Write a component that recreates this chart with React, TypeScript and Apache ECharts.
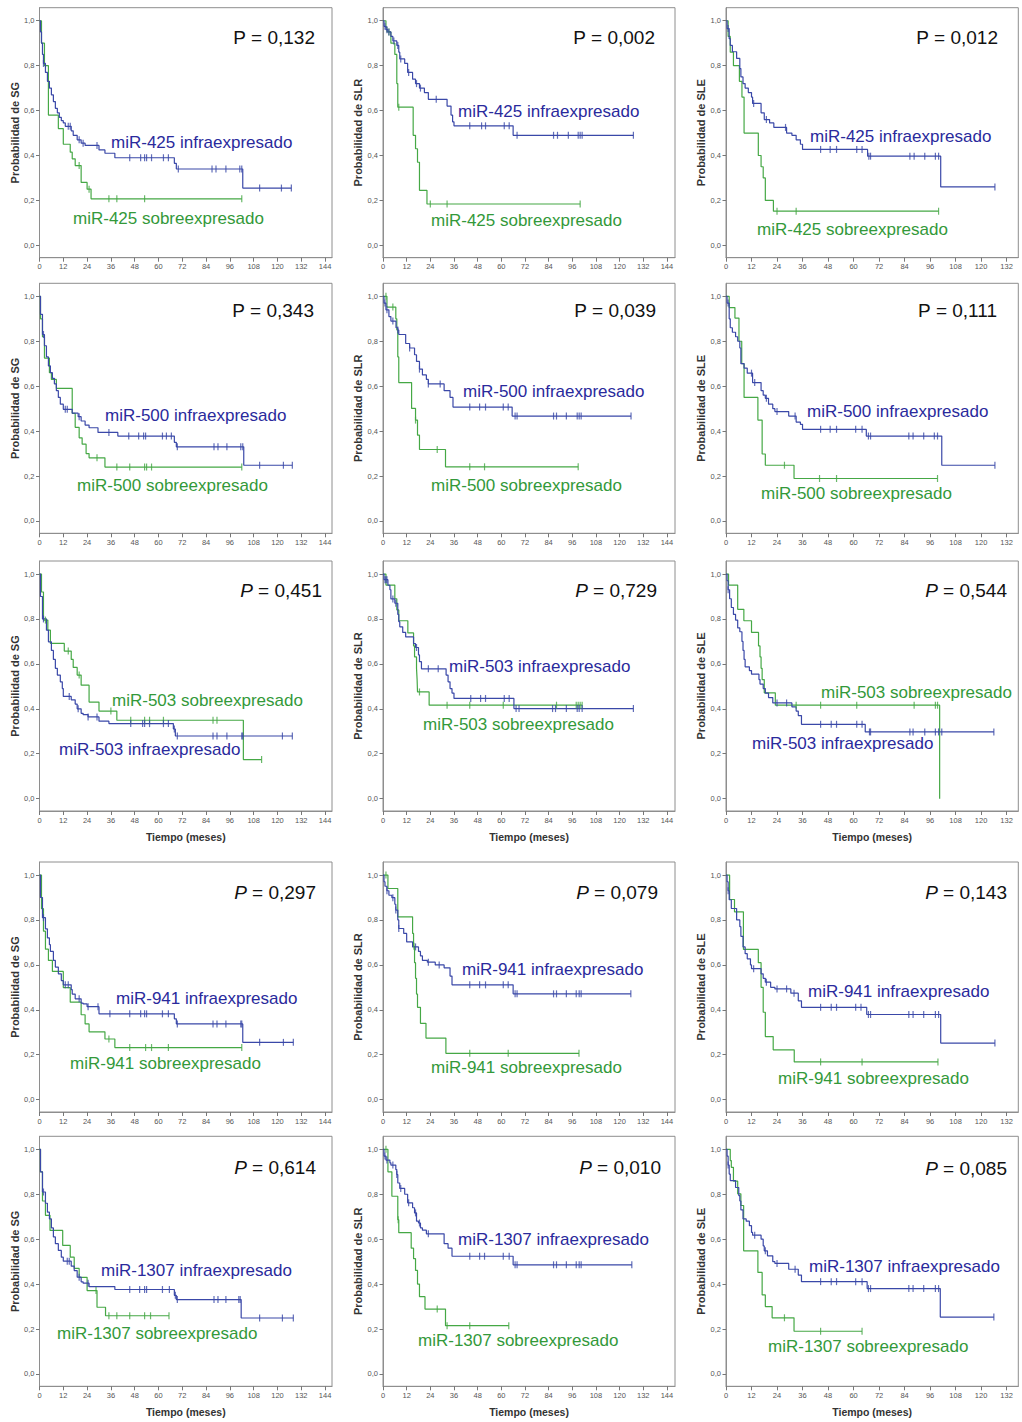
import React, { useEffect, useRef } from "react";
import * as echarts from "echarts";

type Pair = [number, number];

// ---------- tick labels ----------
const TIME_TICKS_144 = [0, 12, 24, 36, 48, 60, 72, 84, 96, 108, 120, 132, 144];
const TIME_TICKS_132 = [0, 12, 24, 36, 48, 60, 72, 84, 96, 108, 120, 132];
const PROB_TICKS = [0, 0.2, 0.4, 0.6, 0.8, 1.0];

const ENDPOINTS = ["SG", "SLR", "SLE"];
const MIRNAS = ["425", "500", "503", "941", "1307"];
const P_VALUES = [
  ["0,132", "0,002", "0,012"],
  ["0,343", "0,039", "0,111"],
  ["0,451", "0,729", "0,544"],
  ["0,297", "0,079", "0,143"],
  ["0,614", "0,010", "0,085"],
];

// ---------- Kaplan-Meier steps: [time (months), survival after event] ; censor times ----------
// miR-425
const sg425Infra: Pair[] = [[0.5,0.95],[1,0.9],[1.5,0.85],[2,0.81],[3,0.77],[4,0.73],[5,0.70],[6,0.67],[7,0.64],[8,0.61],[9,0.59],[10,0.57],[11,0.555],[12,0.545],[13,0.53],[16,0.51],[17,0.49],[19,0.47],[21,0.455],[23,0.445],[30,0.425],[33,0.41],[38,0.39],[68,0.365],[69,0.34],[102.5,0.255]];
const sg425InfraCensor = [2,14.5,15.5,20,22,29,45.5,51,53,54,56.5,62.5,65,70,87,89,94,101,102,111,122,127];
const sg425Sobre: Pair[] = [[1,0.9],[2.5,0.8],[4.5,0.58],[9.5,0.52],[12,0.45],[15.5,0.415],[16.5,0.385],[18,0.355],[21,0.28],[24,0.25],[26,0.207]];
const sg425SobreCensor = [20,25,35,39,53,102];

const slr425Infra: Pair[] = [[0.5,0.975],[1.5,0.96],[2.5,0.95],[4,0.93],[5,0.91],[7,0.89],[8,0.86],[8.5,0.83],[11,0.81],[12.5,0.77],[15,0.74],[16.5,0.72],[18.5,0.70],[21,0.68],[23,0.65],[32.5,0.62],[34.5,0.58],[35.3,0.55],[36,0.532],[66,0.49]];
const slr425InfraCensor = [1,2,3,5.5,7.5,9,13,17,19,27,44,50,52,61.5,64,68,86.5,88.5,94,99,100,101,127];
const slr425Sobre: Pair[] = [[1.5,0.97],[2,0.95],[4,0.9],[6,0.85],[7,0.72],[7.5,0.615],[15.3,0.49],[16.5,0.43],[17.5,0.37],[18.5,0.245],[22.3,0.184]];
const slr425SobreCensor = [3,8,24,32.5,100];

const sle425Infra: Pair[] = [[0.5,0.965],[1.5,0.92],[2,0.89],[3,0.862],[5,0.832],[6.5,0.787],[7,0.75],[8,0.72],[9,0.70],[10.5,0.68],[12,0.66],[12.5,0.632],[16.5,0.59],[18,0.56],[20.5,0.545],[22.5,0.525],[28.5,0.5],[31,0.49],[33,0.47],[35,0.45],[36,0.427],[66.6,0.397],[101,0.26]];
const sle425InfraCensor = [1,13,19,28,44.5,49,52,61.5,64,67.2,68,86.5,88.5,93.5,98.5,100,126.5];
const sle425Sobre: Pair[] = [[1,0.93],[2,0.86],[3.5,0.8],[6.3,0.73],[7.5,0.66],[8.5,0.5],[15.2,0.4],[16.5,0.35],[17.5,0.3],[18.5,0.2],[22.3,0.152]];
const sle425SobreCensor = [24,33,100];

// miR-500
const sg500Infra: Pair[] = [[0.5,0.92],[1.5,0.83],[2.5,0.78],[3.5,0.73],[4.5,0.69],[5.5,0.66],[6.5,0.635],[7.5,0.61],[8.5,0.58],[9.5,0.55],[10.5,0.52],[12,0.497],[16.5,0.48],[19.5,0.464],[21,0.445],[23,0.427],[25,0.415],[29.5,0.394],[39.5,0.378],[68,0.35],[69,0.33],[103,0.248]];
const sg500InfraCensor = [2,13,14,20,35,45,50,52.5,53.5,62,64,66.5,69.5,88,90,94.5,101.5,102.5,111,123,127.5];
const sg500Sobre: Pair[] = [[0.5,0.9],[1.5,0.82],[2.5,0.725],[5,0.66],[6,0.63],[8.5,0.59],[16.5,0.479],[18,0.417],[20,0.37],[21.5,0.342],[23.5,0.30],[25,0.281],[33,0.24]];
const sg500SobreCensor = [29,39,45.5,53,54,56.5,102];

const slr500Infra: Pair[] = [[0.5,0.97],[1.5,0.94],[3,0.91],[4,0.89],[6.6,0.86],[7.5,0.85],[8,0.83],[11.5,0.79],[13.5,0.77],[16,0.74],[17,0.71],[18.5,0.676],[20,0.65],[22,0.63],[23,0.61],[31,0.58],[34,0.55],[35.5,0.507],[65.5,0.467]];
const slr500InfraCensor = [1,2,5,7.5,13.5,18.5,23,29,44,49,52,61,63.5,67,68,86.5,88,93,98.5,99.5,100.5,125.8];
const slr500Sobre: Pair[] = [[2,0.952],[6.5,0.9],[7,0.85],[7.5,0.73],[8,0.616],[14.5,0.501],[16.5,0.449],[17.5,0.382],[18.5,0.318],[31.7,0.241]];
const slr500SobreCensor = [1.5,5,16.5,27.5,44,51.5,99];

const sle500Infra: Pair[] = [[0.5,0.97],[1.5,0.9],[2,0.86],[3,0.84],[4.5,0.82],[5.5,0.8],[6.5,0.77],[7,0.70],[8.5,0.68],[10,0.658],[12.5,0.616],[16.5,0.58],[17.5,0.56],[18.5,0.546],[20,0.52],[22,0.5],[23,0.487],[29.5,0.467],[33,0.44],[35,0.43],[36,0.408],[66,0.378],[101.5,0.248]];
const sle500InfraCensor = [1,12,13.5,19,24,32.5,44.5,49,52,61,64,67,68,86,88,93,98,99.5,126.5];
const sle500Sobre: Pair[] = [[1.5,0.95],[4.2,0.903],[6.1,0.8],[7.4,0.7],[8.5,0.55],[15,0.449],[17,0.298],[18.5,0.248],[32,0.189]];
const sle500SobreCensor = [27.5,44,52,99.5];

// miR-503
const sg503Infra: Pair[] = [[0.5,0.9],[1.5,0.8],[3.5,0.75],[4.5,0.698],[6,0.66],[7,0.62],[8,0.58],[9,0.55],[10.5,0.52],[11.5,0.49],[12,0.455],[16,0.44],[18,0.421],[19,0.40],[21,0.38],[22,0.374],[24.5,0.364],[30,0.345],[35,0.334],[67.5,0.31],[68.5,0.279]];
const sg503InfraCensor = [2,15,19.5,24.5,29,46,52,53,55.5,62.5,65,68,69.5,87.5,89.5,94.5,102,102.5,122.5,127.5];
const sg503Sobre: Pair[] = [[1,0.92],[2,0.795],[4.2,0.75],[5.5,0.691],[12.5,0.657],[16,0.62],[17,0.584],[19,0.55],[21,0.505],[25,0.43],[30,0.39],[39,0.349],[102.8,0.174]];
const sg503SobreCensor = [3,14.5,20,36,46,53,55.5,62.5,87.5,89.5,112];

const slr503Infra: Pair[] = [[0.5,0.975],[2.5,0.95],[3.5,0.93],[4,0.889],[6,0.87],[7.5,0.82],[8,0.788],[8.5,0.765],[10,0.74],[11.5,0.72],[15.5,0.69],[16.5,0.673],[18,0.64],[18.5,0.61],[19.5,0.578],[32,0.55],[33,0.52],[34,0.49],[35,0.47],[36,0.446],[66.4,0.401]];
const slr503InfraCensor = [1,1.5,2,5,6.5,17,23,28,44.5,49.5,52,61.5,64,67.5,69,86,87.5,93,98.5,99.5,101,127];
const slr503Sobre: Pair[] = [[1.5,0.951],[6,0.89],[7,0.84],[8,0.792],[12.6,0.738],[15.5,0.68],[16,0.631],[17,0.58],[17.3,0.53],[17.5,0.475],[23.4,0.416]];
const slr503SobreCensor = [18.5,32.5,44,61,88,98,99,100,101];

const sle503Infra: Pair[] = [[0.5,0.97],[1,0.93],[1.7,0.89],[2.5,0.851],[3.5,0.82],[4.5,0.795],[5.5,0.76],[6.5,0.743],[7.5,0.7],[8,0.66],[8.5,0.62],[9,0.587],[11,0.57],[12,0.554],[15.5,0.53],[16,0.51],[17.5,0.49],[18.5,0.47],[20,0.45],[22,0.426],[31,0.409],[33,0.39],[34,0.37],[35.5,0.331],[65.5,0.297]];
const sle503InfraCensor = [1,24,28.5,44.5,49.5,52,61.5,64,67.5,68,86.5,88,93.5,98.5,100,101.5,126];
const sle503Sobre: Pair[] = [[1.2,0.951],[5.5,0.843],[8.4,0.792],[12,0.74],[15.3,0.68],[16,0.631],[16.5,0.58],[17,0.53],[18,0.471],[23.2,0.416],[100.5,0]];
const sle503SobreCensor = [33,44.5,61.5,88.5,98.5,99.5];

// miR-941
const sg941Infra: Pair[] = [[0.5,0.9],[1.5,0.81],[3,0.76],[4,0.72],[5,0.69],[5.5,0.66],[7,0.62],[8,0.59],[9.5,0.56],[11,0.53],[12,0.511],[16,0.49],[16.5,0.47],[18,0.449],[21,0.43],[22,0.426],[24,0.414],[30,0.382],[68,0.36],[69,0.337],[102.5,0.255]];
const sg941InfraCensor = [2,13,14.5,20,24.5,29.5,35.5,45.5,51,53,54,62,65,69.5,87.5,89.5,94,101.5,102,111,123,128];
const sg941Sobre: Pair[] = [[1,0.85],[2,0.75],[3,0.67],[4.5,0.62],[6.5,0.571],[12,0.499],[15.5,0.434],[21,0.378],[23,0.337],[25,0.302],[33,0.27],[38,0.232]];
const sg941SobreCensor = [35,45.5,53.5,56.5,65,102];

const slr941Infra: Pair[] = [[0.5,0.97],[1,0.95],[2,0.93],[3,0.91],[4.5,0.899],[6,0.87],[6.5,0.844],[7.5,0.8],[8,0.762],[10.5,0.74],[12,0.702],[15,0.68],[18,0.66],[19,0.64],[20,0.62],[22.5,0.612],[26.5,0.6],[31,0.587],[34,0.55],[35,0.511],[66,0.471]];
const slr941InfraCensor = [2,5,6.5,8,16.5,23,28.5,44,49,52,61,63.5,67,68,86.5,88,93,98,99.5,100.5,125.7];
const slr941Sobre: Pair[] = [[2.5,0.94],[7.5,0.814],[15,0.74],[15.5,0.683],[16,0.61],[16.5,0.54],[17,0.47],[17.5,0.411],[19,0.34],[21.8,0.274],[31.9,0.206]];
const slr941SobreCensor = [1.5,15.7,44,63.5,99.4];

const sle941Infra: Pair[] = [[0.5,0.97],[1,0.93],[1.5,0.89],[2.5,0.851],[5,0.8],[6.5,0.77],[7,0.727],[8,0.68],[9,0.65],[10,0.627],[11.5,0.6],[12,0.583],[16.5,0.56],[17.5,0.54],[18.5,0.523],[21,0.5],[23,0.493],[30.5,0.474],[34,0.44],[35.5,0.411],[66.2,0.379],[101,0.252]];
const sle941InfraCensor = [1,13,19,24,28.5,32,44.5,49.5,52,61,63.5,67,68,86,88,93,98.5,100,126.5];
const sle941Sobre: Pair[] = [[1.7,0.891],[4,0.836],[8.2,0.669],[15.2,0.61],[16.5,0.5],[17.5,0.389],[18.5,0.281],[22.2,0.222],[32.1,0.168]];
const sle941SobreCensor = [44.5,64,99.7];

// miR-1307
const sg1307Infra: Pair[] = [[0.5,0.9],[1.5,0.81],[3,0.76],[4,0.72],[5,0.69],[6,0.65],[7,0.61],[8,0.58],[9.5,0.55],[11,0.52],[12,0.502],[16,0.48],[17.5,0.46],[19,0.431],[21,0.41],[22,0.404],[25,0.389],[38,0.376],[68,0.35],[69,0.331],[101.7,0.249]];
const sg1307InfraCensor = [2,14,15,20,24.5,45.5,50.5,53,54,62,65.5,68.5,69.5,88,90,94,100.5,101.2,111,122.5,128];
const sg1307Sobre: Pair[] = [[0.5,0.9],[1.5,0.77],[3,0.706],[5.3,0.639],[11.7,0.572],[15.5,0.52],[17.5,0.47],[20,0.43],[24,0.371],[29,0.297],[33.3,0.259]];
const sg1307SobreCensor = [28.5,35,39,45.5,53,56,65.3];

const slr1307Infra: Pair[] = [[0.5,0.97],[1.5,0.952],[3.5,0.94],[4,0.93],[6.5,0.91],[7,0.888],[7.5,0.85],[8.5,0.826],[11,0.8],[12.5,0.762],[15,0.74],[16,0.717],[17,0.68],[18,0.672],[19,0.65],[20,0.64],[22,0.624],[31,0.58],[33,0.56],[35,0.524],[66,0.486]];
const slr1307InfraCensor = [1,2,5,7,9,13,16.5,18.5,23,44,49,51.5,61,64,67,68,86.5,88,93,98,99.5,100.5,126.2];
const slr1307Sobre: Pair[] = [[2.5,0.9],[4.5,0.791],[7.5,0.687],[8,0.629],[14.3,0.56],[15.5,0.513],[16.5,0.461],[17.5,0.40],[18.5,0.344],[21.3,0.289],[31.7,0.215]];
const slr1307SobreCensor = [1.5,7.7,27.5,32.5,44,63.8];

const sle1307Infra: Pair[] = [[0.5,0.97],[1,0.93],[1.5,0.89],[2,0.861],[4.5,0.83],[6,0.794],[6.5,0.77],[7,0.73],[8,0.69],[9.5,0.68],[11,0.66],[12,0.63],[12.5,0.618],[16.5,0.6],[17.5,0.57],[18,0.548],[19.5,0.526],[22,0.5],[23,0.492],[29.5,0.466],[34,0.44],[35.5,0.411],[66.4,0.38],[100.8,0.253]];
const sle1307InfraCensor = [1,13.5,18.5,24,32.5,44.5,49.5,52,61,64,67,68,86,88,93,98.5,100,126];
const sle1307Sobre: Pair[] = [[2,0.95],[2.5,0.92],[3.5,0.858],[5.5,0.802],[7,0.75],[8.3,0.548],[15,0.452],[17,0.352],[18.5,0.3],[21.7,0.25],[32,0.19]];
const sle1307SobreCensor = [27.5,44.5,64];

// panels in reading order (row = miRNA, column = endpoint)
const CURVES: [Pair[], number[], Pair[], number[]][] = [
  [sg425Infra, sg425InfraCensor, sg425Sobre, sg425SobreCensor],
  [slr425Infra, slr425InfraCensor, slr425Sobre, slr425SobreCensor],
  [sle425Infra, sle425InfraCensor, sle425Sobre, sle425SobreCensor],
  [sg500Infra, sg500InfraCensor, sg500Sobre, sg500SobreCensor],
  [slr500Infra, slr500InfraCensor, slr500Sobre, slr500SobreCensor],
  [sle500Infra, sle500InfraCensor, sle500Sobre, sle500SobreCensor],
  [sg503Infra, sg503InfraCensor, sg503Sobre, sg503SobreCensor],
  [slr503Infra, slr503InfraCensor, slr503Sobre, slr503SobreCensor],
  [sle503Infra, sle503InfraCensor, sle503Sobre, sle503SobreCensor],
  [sg941Infra, sg941InfraCensor, sg941Sobre, sg941SobreCensor],
  [slr941Infra, slr941InfraCensor, slr941Sobre, slr941SobreCensor],
  [sle941Infra, sle941InfraCensor, sle941Sobre, sle941SobreCensor],
  [sg1307Infra, sg1307InfraCensor, sg1307Sobre, sg1307SobreCensor],
  [slr1307Infra, slr1307InfraCensor, slr1307Sobre, slr1307SobreCensor],
  [sle1307Infra, sle1307InfraCensor, sle1307Sobre, sle1307SobreCensor],
];

// ---------- layout (pixels) ----------
const COL_LEFT = [39.5, 383, 726];
const COL_WIDTH = [292.5, 292, 292.3];
const COL_XMAX = [147.5, 148.1, 137.5];
const ROW_TOP = [7.7, 283.3, 561, 862, 1136.3];
const GRID_H = 250;
const Y_MIN = -0.055;
const Y_MAX = 1.058;
// [infraLeft, infraCenterY, sobreLeft, sobreCenterY, pRight, pCenterY]
const TEXT_POS = [
  [111, 142, 73, 218, 315, 37],
  [458, 111, 431, 220, 655, 37],
  [810, 136, 757, 229, 998, 37],
  [105, 415, 77, 485, 314, 310],
  [463, 391, 431, 485, 656, 310],
  [807, 411, 761, 493, 997, 310],
  [59, 749, 112, 700, 322, 590],
  [449, 666, 423, 724, 657, 590],
  [752, 743, 821, 692, 1007, 590],
  [116, 998, 70, 1063, 316, 892],
  [462, 969, 431, 1067, 658, 892],
  [808, 991, 778, 1078, 1007, 892],
  [101, 1270, 57, 1333, 316, 1167],
  [458, 1239, 418, 1340, 661, 1167],
  [809, 1266, 768, 1346, 1007, 1168],
];

const FONT = "'Liberation Sans', Arial, Helvetica, sans-serif";
const BLUE_LINE = "#3a48a8";
const GREEN_LINE = "#45a845";
const BLUE_TEXT = "#2a2a9c";
const GREEN_TEXT = "#33993a";
const FRAME = "#8e8e8e";

function curveLine(steps: Pair[], censor: number[]): Pair[] {
  const pts: Pair[] = [[0, 1], ...steps];
  const last = pts[pts.length - 1];
  const end = Math.max(last[0], ...censor);
  if (end > last[0]) pts.push([end, last[1]]);
  return pts;
}
function survivalAt(steps: Pair[], t: number): number {
  let s = 1;
  for (const [tt, v] of steps) if (tt <= t) s = v;
  return s;
}
function censorPoints(steps: Pair[], censor: number[]): Pair[] {
  return censor.map((t) => [t, survivalAt(steps, t)] as Pair);
}

function buildOption() {
  const grid: any[] = [];
  const xAxis: any[] = [];
  const yAxis: any[] = [];
  const series: any[] = [];
  const graphic: any[] = [];

  for (let i = 0; i < 15; i++) {
    const row = Math.floor(i / 3);
    const col = i % 3;
    const ticks = col === 2 ? TIME_TICKS_132 : TIME_TICKS_144;
    grid.push({
      left: COL_LEFT[col],
      top: ROW_TOP[row],
      width: COL_WIDTH[col],
      height: GRID_H,
      show: true,
      borderColor: FRAME,
      borderWidth: 1,
      backgroundColor: "#fff",
    });
    xAxis.push({
      gridIndex: i,
      type: "value",
      min: 0,
      max: COL_XMAX[col],
      axisLine: { show: true, onZero: false, lineStyle: { color: FRAME, width: 1 } },
      axisTick: { show: true, length: 4, customValues: ticks, lineStyle: { color: "#777" } },
      axisLabel: { customValues: ticks, fontSize: 7.5, color: "#555", margin: 5, fontFamily: FONT },
      splitLine: { show: false },
      name: row === 2 || row === 4 ? "Tiempo (meses)" : "",
      nameLocation: "middle",
      nameGap: 20,
      nameTextStyle: { fontWeight: "bold", fontSize: 10.5, color: "#333", fontFamily: FONT },
    });
    yAxis.push({
      gridIndex: i,
      type: "value",
      min: Y_MIN,
      max: Y_MAX,
      axisLine: { show: true, onZero: false, lineStyle: { color: FRAME, width: 1 } },
      axisTick: { show: true, length: 3.5, customValues: PROB_TICKS, lineStyle: { color: "#777" } },
      axisLabel: {
        customValues: PROB_TICKS,
        fontSize: 7.5,
        color: "#555",
        margin: 5,
        fontFamily: FONT,
        formatter: (v: number) => v.toFixed(1).replace(".", ","),
      },
      splitLine: { show: false },
      name: "Probabilidad de " + ENDPOINTS[col],
      nameLocation: "middle",
      nameRotate: 90,
      nameGap: 18,
      nameTextStyle: { fontWeight: "bold", fontSize: 11, color: "#333", fontFamily: FONT },
    });

    const [infS, infC, sobS, sobC] = CURVES[i];
    const groups: [Pair[], number[], string][] = [
      [sobS, sobC, GREEN_LINE],
      [infS, infC, BLUE_LINE],
    ];
    for (const [steps, cens, color] of groups) {
      series.push({
        type: "line",
        xAxisIndex: i,
        yAxisIndex: i,
        step: "end",
        symbol: "none",
        showSymbol: false,
        silent: true,
        lineStyle: { color, width: 1.2 },
        data: curveLine(steps, cens),
        z: 2,
      });
      series.push({
        type: "scatter",
        xAxisIndex: i,
        yAxisIndex: i,
        symbol: "rect",
        symbolSize: [1.2, 7],
        silent: true,
        itemStyle: { color },
        data: censorPoints(steps, cens),
        z: 3,
      });
    }

    const [ix, iy, sx, sy, pr, py] = TEXT_POS[i];
    const mir = MIRNAS[row];
    graphic.push({
      type: "text",
      x: ix,
      y: iy,
      silent: true,
      style: {
        text: "miR-" + mir + " infraexpresado",
        fill: BLUE_TEXT,
        fontSize: 17,
        fontFamily: FONT,
        align: "left",
        verticalAlign: "middle",
      },
    });
    graphic.push({
      type: "text",
      x: sx,
      y: sy,
      silent: true,
      style: {
        text: "miR-" + mir + " sobreexpresado",
        fill: GREEN_TEXT,
        fontSize: 17,
        fontFamily: FONT,
        align: "left",
        verticalAlign: "middle",
      },
    });
    const italic = row >= 2;
    graphic.push({
      type: "text",
      x: pr,
      y: py,
      silent: true,
      style: {
        text: (italic ? "{i|P}" : "{n|P}") + "{n| = " + P_VALUES[row][col] + "}",
        align: "right",
        verticalAlign: "middle",
        fill: "#111",
        fontSize: 19,
        fontFamily: FONT,
        rich: {
          i: { fontStyle: "italic", fontSize: 19, fontFamily: FONT, fill: "#111" },
          n: { fontSize: 19, fontFamily: FONT, fill: "#111" },
        },
      },
    });
  }

  return {
    animation: false,
    backgroundColor: "#ffffff",
    grid,
    xAxis,
    yAxis,
    series,
    graphic,
  };
}

export default function App() {
  const ref = useRef<HTMLDivElement>(null);
  useEffect(() => {
    if (!ref.current) return;
    const chart = echarts.init(ref.current, undefined, { renderer: "svg" });
    chart.setOption(buildOption() as any);
    return () => chart.dispose();
  }, []);
  return (
    <div
      ref={ref}
      style={{ position: "absolute", left: 0, top: 0, width: 1022, height: 1422, background: "#fff" }}
    />
  );
}
